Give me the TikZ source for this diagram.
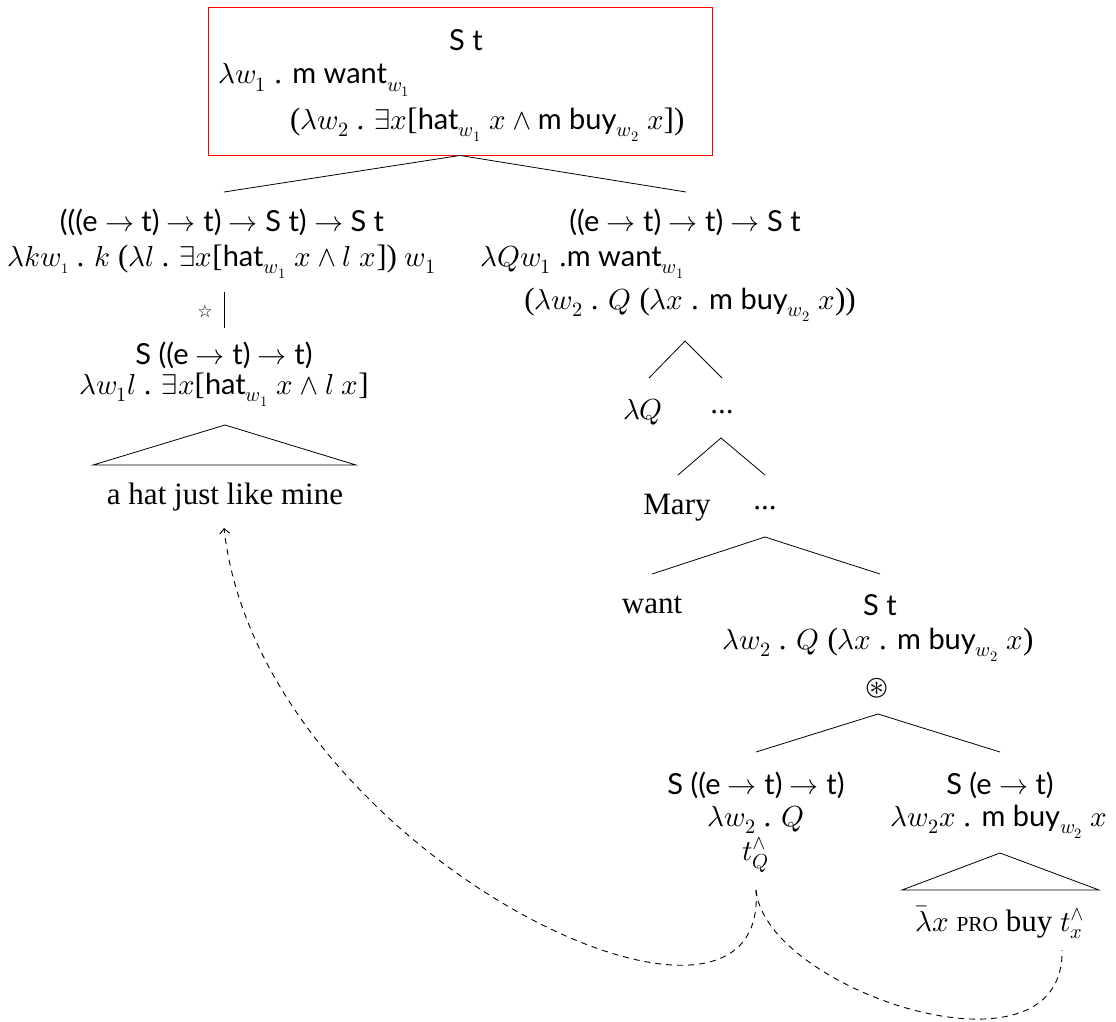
\documentclass[tikz,border=0pt]{standalone}
\usepackage{fontspec}
\usepackage{unicode-math}
\setmainfont[Scale=1.07]{Liberation Serif}
\setsansfont{Lato}
\newfontfamily\symfnt{DejaVu Sans}
\usetikzlibrary{arrows.meta}
\begin{document}
\begin{tikzpicture}[x=1pt,y=-1pt,
  every node/.style={inner sep=0pt,font=\fontsize{29}{33}\selectfont},
  txt/.style={anchor=center},
  lft/.style={anchor=west},
  edge/.style={line width=0.8pt},
  link/.style={line width=0.9pt,dash pattern=on 6pt off 5pt}]
\useasboundingbox (0,0) rectangle (1116,1021);

% top box
\node[draw=red,line width=0.9pt,minimum width=504pt,minimum height=148pt] (box) at (460,81) {};
\node[txt] (b1) at (466,40) {\textsf{S t}};
\node[lft] (b2) at (218,80) {$\lambda w_1$ . \textsf{m want}$_{w_1}$};
\node[lft] (b3) at (290,125) {($\lambda w_2$ . $\exists x$[\textsf{hat}$_{w_1}$ $x\wedge{}$\textsf{m buy}$_{w_2}$ $x$])};

\coordinate (la) at (224,192);
\coordinate (ra) at (686,192);
\draw[edge] (box.south) -- (la);
\draw[edge] (box.south) -- (ra);

% left branch
\node[txt] (l1) at (222,222) {\textsf{(((e $\to$ t) $\to$ t) $\to$ S t) $\to$ S t}};
\node[txt] (l2) at (222,262) {$\lambda k w_{\scriptscriptstyle 1}$ . $k$ ($\lambda l$ . $\exists x$[\textsf{hat}$_{w_1}$ $x\wedge l\;x$]) $w_1$};
\node[txt] (star) at (205,311) {\symfnt\fontsize{17}{17}\selectfont ☆};
\coordinate (vt) at (224,292);
\coordinate (vb) at (224,328);
\draw[edge] (vt) -- (vb);
\node[txt] (l3) at (224,355) {\textsf{S ((e $\to$ t) $\to$ t)}};
\node[txt] (l4) at (224,390) {$\lambda w_1 l$ . $\exists x$[\textsf{hat}$_{w_1}$ $x\wedge l\;x$]};
\coordinate (ltA) at (225,425);
\coordinate (ltL) at (93,465);
\coordinate (ltR) at (356,465);
\draw[edge] (ltL) -- (ltA) -- (ltR) -- cycle;
\node[txt] (hat) at (225,497) {a hat just like mine};

% right branch
\node[txt] (r1) at (685,222) {\textsf{((e $\to$ t) $\to$ t) $\to$ S t}};
\node[lft] (r2) at (480,262) {$\lambda Q w_1$ .\textsf{m want}$_{w_1}$};
\node[txt] (r3) at (690,305) {($\lambda w_2$ . $Q$ ($\lambda x$ . \textsf{m buy}$_{w_2}$ $x$))};
\coordinate (a1) at (685,341);
\coordinate (a1l) at (649,378);
\coordinate (a1r) at (722,378);
\draw[edge] (a1l) -- (a1) -- (a1r);
\node[txt] (lq) at (643,412) {$\lambda Q$};
\node[txt] (d1) at (722,412) {...};
\coordinate (a2) at (721,438);
\coordinate (a2l) at (678,475);
\coordinate (a2r) at (765,475);
\draw[edge] (a2l) -- (a2) -- (a2r);
\node[txt] (mary) at (677,508) {Mary};
\node[txt] (d2) at (765,508) {...};
\coordinate (a3) at (765,537);
\coordinate (a3l) at (652,574);
\coordinate (a3r) at (880,574);
\draw[edge] (a3l) -- (a3) -- (a3r);
\node[txt] (want) at (652,605) {want};
\node[txt] (s2) at (880,605) {\textsf{S t}};
\node[txt] (r4) at (878,645) {$\lambda w_2$ . $Q$ ($\lambda x$ . \textsf{m buy}$_{w_2}$ $x$)};
\node[txt] (ast) at (877,688) {$\circledast$};
\coordinate (a4) at (878,714);
\coordinate (a4l) at (756,752);
\coordinate (a4r) at (1000,752);
\draw[edge] (a4l) -- (a4) -- (a4r);
\node[txt] (q1) at (756,785) {\textsf{S ((e $\to$ t) $\to$ t)}};
\node[txt] (q2) at (756,820) {$\lambda w_2$ . $Q$};
\node[txt] (tq) at (756,855) {$t^{\wedge}_{Q}$};
\node[txt] (x1) at (1000,785) {\textsf{S (e $\to$ t)}};
\node[txt] (x2) at (999,822) {$\lambda w_2 x$ . \textsf{m buy}$_{w_2}$ $x$};
\coordinate (rtA) at (1000,853);
\coordinate (rtL) at (902,890);
\coordinate (rtR) at (1099,890);
\draw[edge] (rtL) -- (rtA) -- (rtR) -- cycle;
\node[txt] (x3) at (1000,922) {$\bar\lambda x$ {\fontsize{20}{20}\selectfont PRO} buy $t^{\wedge}_{x}$};

% movement links
\coordinate (tqend) at (756,890);
\coordinate (hatend) at (224,528);
\coordinate (txend) at (1062,950);
\draw[link,-{Straight Barb[length=5pt,width=10pt]}] (tqend) .. controls (770,1095) and (260,850) .. (hatend);
\draw[link] (tqend) .. controls (765,990) and (1065,1090) .. (txend);
\end{tikzpicture}
\end{document}
